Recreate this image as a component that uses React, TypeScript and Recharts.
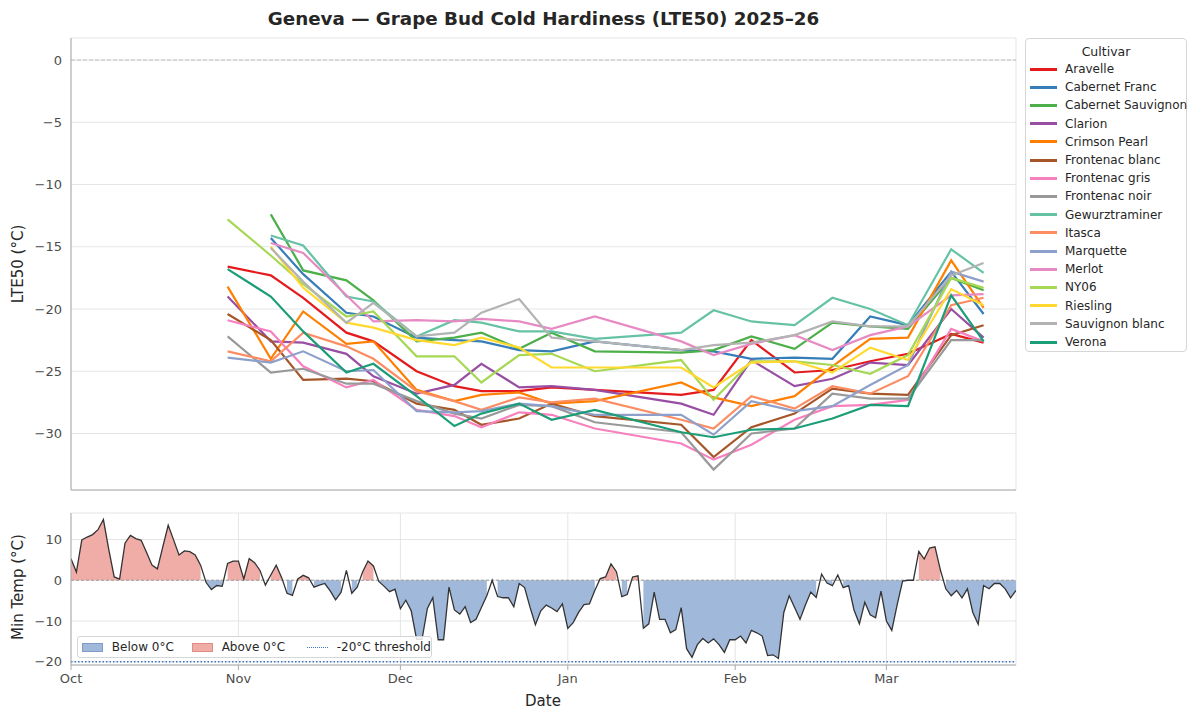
import React from 'react';
import { LineChart, ComposedChart, Line, Area, XAxis, YAxis, CartesianGrid, ReferenceLine } from 'recharts';

// season axis: days counted from Oct 1 2025
const seasonStart = '2025-10-01';
const monthTickDates = ['2025-10-01', '2025-11-01', '2025-12-01', '2026-01-01', '2026-02-01', '2026-03-01'];
const monthLabels = ['Oct', 'Nov', 'Dec', 'Jan', 'Feb', 'Mar'];
const lteTicks = [0, -5, -10, -15, -20, -25, -30];
const tempTicks = [10, 0, -10, -20];

const sampleDates = [
  '2025-10-30', '2025-11-07', '2025-11-13', '2025-11-21', '2025-11-26', '2025-12-04', '2025-12-11',
  '2025-12-16', '2025-12-23', '2025-12-29', '2026-01-06', '2026-01-22', '2026-01-28', '2026-02-04',
  '2026-02-12', '2026-02-19', '2026-02-26', '2026-03-05', '2026-03-13', '2026-03-19',
];

const cultivars = [
  'Aravelle', 'Cabernet Franc', 'Cabernet Sauvignon', 'Clarion', 'Crimson Pearl', 'Frontenac blanc',
  'Frontenac gris', 'Frontenac noir', 'Gewurztraminer', 'Itasca', 'Marquette', 'Merlot', 'NY06',
  'Riesling', 'Sauvignon blanc', 'Verona',
];
const cultivarColors = [
  '#e41a1c', '#377eb8', '#4daf4a', '#984ea3', '#ff7f00', '#a65628', '#f781bf', '#999999',
  '#66c2a5', '#fc8d62', '#8da0cb', '#e78ac3', '#a6d854', '#ffd92f', '#b3b3b3', '#1b9e77',
];

const aravelle = [-16.6, -17.3, -19.1, -21.9, -22.6, -25.0, -26.2, -26.6, -26.6, -26.3, -26.5, -26.9, -26.5, -22.5, -25.1, -24.9, -24.2, -23.6, -22.0, -22.7];
const cabernetFranc = [null, -14.3, -17.2, -20.3, -20.6, -22.3, -22.5, -22.6, -23.3, -23.4, -22.6, -23.3, -23.4, -24.0, -23.9, -24.0, -20.6, -21.3, -17.0, -20.4];
const cabernetSauvignon = [null, -12.4, -16.9, -17.7, -19.3, -22.6, -22.3, -21.9, -23.2, -21.9, -23.4, -23.5, -23.3, -22.2, -23.2, -21.1, -21.4, -21.6, -17.5, -18.5];
const clarion = [-19.0, -22.6, -22.7, -23.6, -25.4, -26.8, -26.1, -24.4, -26.3, -26.2, -26.5, -27.6, -28.5, -24.1, -26.2, -25.6, -24.3, -24.5, -20.0, -22.3];
const crimsonPearl = [-18.2, -24.0, -20.2, -22.8, -22.6, -26.5, -27.4, -26.9, -26.7, -27.6, -27.4, -25.9, -27.1, -27.8, -27.0, -24.6, -22.4, -22.3, -16.1, -19.9];
const frontenacBlanc = [-20.4, -22.5, -25.7, -25.6, -25.8, -27.6, -28.1, -29.3, -28.8, -27.6, -28.6, -29.3, -31.9, -29.5, -28.4, -26.4, -26.8, -26.9, -22.1, -21.3];
const frontenacGris = [-20.9, -21.8, -24.6, -26.3, -25.7, -28.1, -28.6, -29.5, -28.3, -28.5, -29.6, -30.8, -32.1, -30.9, -28.9, -27.8, -27.7, -27.3, -21.6, -22.6];
const frontenacNoir = [-22.2, -25.1, -24.8, -26.0, -26.0, -27.4, -28.4, -28.8, -27.7, -27.8, -29.1, -29.9, -32.9, -30.0, -29.6, -26.8, -27.2, -27.2, -22.5, -22.5];
const gewurztraminer = [null, -14.1, -14.9, -19.0, -19.4, -22.2, -20.9, -21.1, -21.8, -21.8, -22.4, -21.9, -20.1, -21.0, -21.3, -19.1, -20.0, -21.3, -15.2, -17.1];
const itasca = [-23.4, -24.2, -21.9, -23.0, -24.0, -26.6, -27.4, -28.1, -27.1, -27.5, -27.2, -28.9, -29.6, -27.0, -28.0, -26.2, -26.8, -25.4, -19.7, -19.1];
const marquette = [-23.9, -24.3, -23.4, -25.0, -24.9, -28.2, -28.3, -28.2, -27.6, -27.8, -28.5, -28.5, -30.1, -27.4, -28.2, -27.8, -26.1, -24.5, -17.0, -17.8];
const merlot = [null, -14.7, -15.5, -18.9, -21.0, -20.9, -21.0, -20.8, -21.0, -21.6, -20.6, -22.6, -23.7, -22.8, -22.1, -23.3, -22.1, -21.4, -18.9, -18.8];
const ny06 = [-12.8, -15.7, -18.0, -20.6, -20.2, -23.8, -23.8, -25.9, -23.7, -23.6, -25.0, -24.1, -27.3, -24.2, -24.2, -24.5, -25.2, -23.7, -17.5, -18.3];
const riesling = [null, -15.0, -18.3, -21.1, -21.5, -22.5, -22.9, -22.3, -23.1, -24.7, -24.7, -24.7, -26.3, -24.3, -24.2, -25.1, -23.1, -24.1, -18.4, -19.7];
const sauvignonBlanc = [null, -15.1, -17.8, -21.1, -19.5, -22.2, -21.9, -20.3, -19.2, -22.3, -22.6, -23.3, -22.9, -22.7, -22.1, -21.0, -21.4, -21.4, -17.3, -16.3];
const verona = [-16.8, -19.0, -21.8, -25.1, -24.4, -27.0, -29.4, -28.4, -27.6, -28.9, -28.1, -29.9, -30.3, -29.7, -29.6, -28.8, -27.7, -27.8, -18.9, -22.6];

const cultivarSeries = [
  aravelle, cabernetFranc, cabernetSauvignon, clarion, crimsonPearl, frontenacBlanc, frontenacGris,
  frontenacNoir, gewurztraminer, itasca, marquette, merlot, ny06, riesling, sauvignonBlanc, verona,
];

// daily minimum temperature from Oct 1
const minTemp = [
  5.3, 2.0, 9.9, 10.6, 11.2, 12.4, 14.9, 7.5, 0.8, 0.3,
  9.1, 11.0, 10.2, 9.8, 6.8, 3.7, 2.8, 8.2, 13.5, 9.9,
  6.2, 7.2, 7.0, 6.2, 3.7, -0.5, -2.3, -1.3, -1.5, 4.1,
  4.7, 4.7, 0.3, 5.3, 4.3, 2.4, -1.2, 1.3, 3.7, 0.7,
  -3.2, -3.7, 0.3, 1.2, 0.6, -1.7, -1.2, -0.8, -2.6, -4.8,
  -3.0, 2.4, -3.2, -1.7, 2.0, 4.7, 3.5, -0.3, -1.5, -2.8,
  -2.2, -7.0, -4.9, -7.5, -14.5, -14.5, -6.9, -4.3, -14.6, -14.6,
  -1.7, -7.3, -8.3, -6.5, -10.4, -9.6, -6.7, -3.8, 0.0, -4.0,
  -4.3, -4.3, -6.5, -0.8, -1.8, -6.6, -10.9, -7.5, -6.1, -6.8,
  -7.7, -5.8, -11.8, -10.4, -7.9, -6.0, -5.8, -2.5, 0.4, 0.8,
  4.0, 2.1, -4.0, -3.5, 0.8, 1.1, -11.8, -10.7, -2.9, -9.6,
  -9.6, -12.9, -12.1, -6.7, -16.8, -18.9, -15.8, -14.3, -15.4, -14.4,
  -15.8, -17.7, -14.6, -14.6, -13.7, -15.4, -12.3, -12.9, -13.7, -18.5,
  -18.3, -19.2, -7.9, -3.8, -6.7, -9.6, -6.1, -2.9, -4.2, 1.5,
  -0.7, -1.3, 1.3, -1.8, -1.3, -7.3, -10.7, -5.4, -8.5, -9.2,
  -2.7, -10.0, -12.3, -6.0, -0.2, 0.0, 0.0, 7.1, 5.2, 7.9,
  8.2, 2.5, -2.1, -3.8, -2.5, -4.3, -2.1, -7.9, -10.8, -1.3,
  -2.1, -0.8, -0.8, -2.1, -4.3, -2.5,
];

const dayOf = (iso: string) => {
  const [y, m, d] = iso.split('-').map(Number);
  const [y0, m0, d0] = seasonStart.split('-').map(Number);
  return Math.round((Date.UTC(y, m - 1, d) - Date.UTC(y0, m0 - 1, d0)) / 86400000);
};

const monthTickDays = monthTickDates.map(dayOf);
const xDomain: [number, number] = [0, minTemp.length - 1];

const lteRows = sampleDates.map((d, i) => {
  const row: Record<string, number | null> = { day: dayOf(d) };
  cultivars.forEach((c, k) => {
    row[c] = cultivarSeries[k][i];
  });
  return row;
});

const tempRows = minTemp.map((t, i) => ({
  day: i,
  t,
  above: t > 0 ? t : null,
  below: t < 0 ? t : null,
}));

const FONT = '"DejaVu Sans", Verdana, sans-serif';
const TICK = { fill: '#4d4d4d', fontSize: 13, fontFamily: FONT };
const GRID = '#e5e5e5';
const SPINE = '#aaaaaa';

const fmtTick = (v: number) => (v < 0 ? `\u2212${Math.abs(v)}` : `${v}`);
const fmtMonth = (d: number) => monthLabels[monthTickDays.indexOf(d)] ?? '';

export default function App() {
  return (
    <div style={{ position: 'absolute', left: 0, top: 0, width: 1188, height: 711, background: '#fff', overflow: 'hidden', fontFamily: FONT }}>
      <div style={{ position: 'absolute', left: 71, width: 945, top: 8, textAlign: 'center', fontSize: 18.3, fontWeight: 'bold', color: '#262626' }}>
        Geneva — Grape Bud Cold Hardiness (LTE50) 2025–26
      </div>

      <div style={{ position: 'absolute', left: 0, top: 0 }}>
        <LineChart width={1030} height={500} data={lteRows} margin={{ top: 38, right: 14, bottom: 0, left: 0 }}>
          <CartesianGrid stroke={GRID} />
          <XAxis type="number" dataKey="day" domain={xDomain} ticks={monthTickDays} tick={false} height={10} tickSize={5} stroke={SPINE} allowDataOverflow />
          <YAxis type="number" domain={[-34.54, 1.77]} ticks={lteTicks} width={71} tickSize={0} tickMargin={9} tickFormatter={fmtTick} tick={TICK} stroke={SPINE} allowDataOverflow />
          <ReferenceLine y={0} stroke="#bdbdbd" strokeDasharray="4 2" />
          {cultivars.map((c, k) => (
            <Line key={c} dataKey={c} stroke={cultivarColors[k]} strokeWidth={2.2} dot={false} isAnimationActive={false} />
          ))}
        </LineChart>
      </div>

      <div style={{ position: 'absolute', left: 0, top: 480 }}>
        <ComposedChart width={1030} height={231} data={tempRows} margin={{ top: 33, right: 14, bottom: 0, left: 0 }}>
          <CartesianGrid stroke={GRID} />
          <XAxis type="number" dataKey="day" domain={xDomain} ticks={monthTickDays} tickFormatter={fmtMonth} height={46} tickSize={5} tickMargin={4} stroke={SPINE} tick={TICK} allowDataOverflow />
          <YAxis type="number" domain={[-20.8, 16.5]} ticks={tempTicks} width={71} tickSize={0} tickMargin={9} tickFormatter={fmtTick} tick={TICK} stroke={SPINE} allowDataOverflow />
          <Area dataKey="above" baseValue={0} fill="#f0aca6" fillOpacity={1} stroke="none" isAnimationActive={false} />
          <Area dataKey="below" baseValue={0} fill="#a0b8da" fillOpacity={1} stroke="none" isAnimationActive={false} />
          <ReferenceLine y={0} stroke="#9a9a9a" strokeDasharray="3 2" />
          <ReferenceLine y={-20} stroke="#3b75c4" strokeDasharray="1.5 2" strokeWidth={1.5} />
          <Line dataKey="t" stroke="#333333" strokeWidth={1.3} dot={false} isAnimationActive={false} />
        </ComposedChart>
      </div>

      <div style={{ position: 'absolute', left: 18, top: 264, transform: 'translate(-50%, -50%) rotate(-90deg)', whiteSpace: 'nowrap', fontSize: 15, color: '#262626' }}>
        LTE50 (°C)
      </div>
      <div style={{ position: 'absolute', left: 18, top: 587, transform: 'translate(-50%, -50%) rotate(-90deg)', whiteSpace: 'nowrap', fontSize: 15, color: '#262626' }}>
        Min Temp (°C)
      </div>
      <div style={{ position: 'absolute', left: 543, top: 701, transform: 'translate(-50%, -50%)', fontSize: 15, color: '#262626' }}>
        Date
      </div>

      {/* cultivar legend */}
      <div style={{ position: 'absolute', left: 1025, top: 38, width: 162, height: 314, border: '1px solid #d6d6d6', borderRadius: 4, background: '#fff', boxSizing: 'border-box' }}>
        <div style={{ position: 'absolute', left: 0, right: 0, top: 12, transform: 'translateY(-50%)', textAlign: 'center', fontSize: 12.5, color: '#262626' }}>Cultivar</div>
        {cultivars.map((c, k) => (
          <div key={c} style={{ position: 'absolute', left: 4, top: 30 + 18.2 * k, transform: 'translateY(-50%)', display: 'flex', alignItems: 'center', whiteSpace: 'nowrap' }}>
            <div style={{ width: 27, height: 3, background: cultivarColors[k] }} />
            <span style={{ marginLeft: 8, fontSize: 12, color: '#262626' }}>{c}</span>
          </div>
        ))}
      </div>

      {/* temperature legend */}
      <div style={{ position: 'absolute', left: 77, top: 636, width: 355, height: 22, border: '1px solid #d6d6d6', borderRadius: 3, background: 'rgba(255,255,255,0.85)', boxSizing: 'border-box', display: 'flex', alignItems: 'center', fontSize: 12, color: '#262626', whiteSpace: 'nowrap' }}>
        <div style={{ marginLeft: 4, width: 24, height: 9, background: '#a0b8da', border: '1px solid #7f9cc8', boxSizing: 'border-box' }} />
        <span style={{ marginLeft: 9 }}>Below 0°C</span>
        <div style={{ marginLeft: 18, width: 24, height: 9, background: '#f0aca6', border: '1px solid #e48b84', boxSizing: 'border-box' }} />
        <span style={{ marginLeft: 9 }}>Above 0°C</span>
        <div style={{ marginLeft: 22, width: 24, height: 0, borderTop: '1.5px dotted #3b75c4' }} />
        <span style={{ marginLeft: 9 }}>-20°C threshold</span>
      </div>
    </div>
  );
}
